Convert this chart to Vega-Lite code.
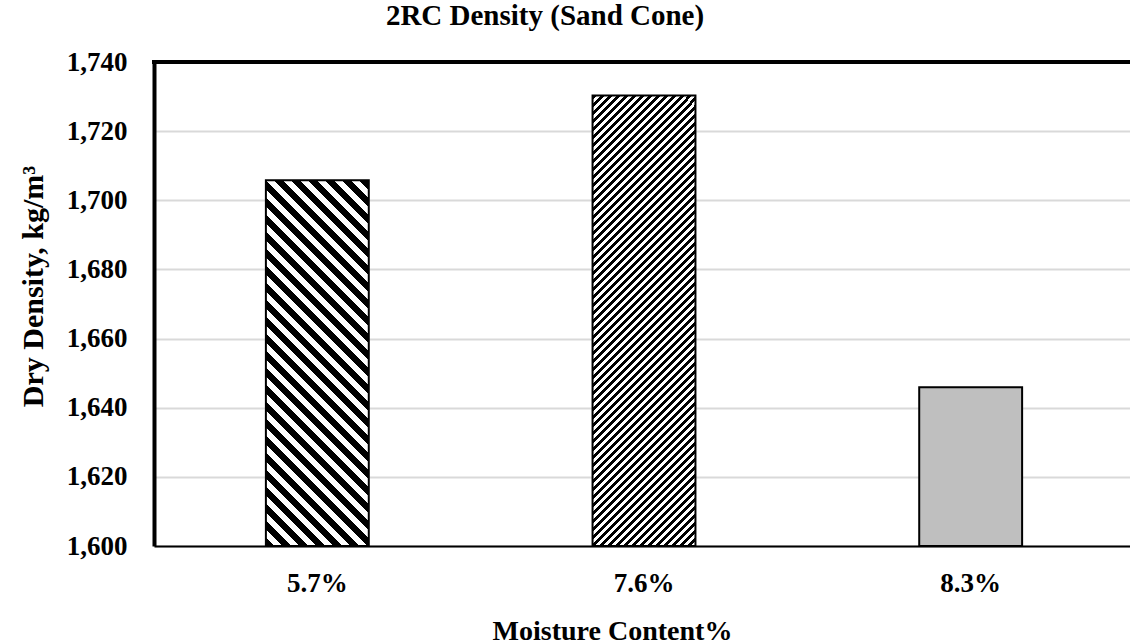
{
  "$schema": "https://vega.github.io/schema/vega-lite/v6.json",
  "width": 980,
  "height": 484,
  "autosize": {"type": "none"},
  "padding": {"left": 154, "top": 62, "right": 0, "bottom": 98},
  "background": "white",
  "title": {"text": "2RC Density (Sand Cone)", "font": "Liberation Serif", "fontSize": 29, "fontWeight": "bold", "color": "#000", "anchor": "middle", "dx": -99, "baseline": "alphabetic", "offset": -6},
  "data": {"values": [
    {"moisture": "5.7%", "density": 1705.8},
    {"moisture": "7.6%", "density": 1730.3},
    {"moisture": "8.3%", "density": 1645.9}
  ]},
  "layer": [
    {
      "encoding": {
        "x": {"field": "moisture", "type": "nominal", "sort": null,
          "scale": {"domain": ["5.7%", "7.6%", "8.3%"], "paddingInner": 0.685, "paddingOuter": 0.3425},
          "axis": {"title": "Moisture Content%", "labelAngle": 0, "labelFont": "Liberation Serif", "labelFontSize": 27, "labelFontWeight": "bold", "labelColor": "#000", "labelPadding": 45, "labelBaseline": "alphabetic", "ticks": false, "domainColor": "#000", "domainWidth": 2, "titleFont": "Liberation Serif", "titleFontSize": 28, "titleFontWeight": "bold", "titleColor": "#000", "titleX": 458, "titleY": 93, "titleBaseline": "alphabetic", "titleAnchor": "middle", "titleAlign": "center"}},
        "y": {"field": "density", "type": "quantitative",
          "scale": {"domain": [1600, 1740], "nice": false, "zero": false},
          "axis": {"title": "Dry Density, kg/m³", "values": [1600, 1620, 1640, 1660, 1680, 1700, 1720, 1740], "format": ",d", "labelFont": "Liberation Serif", "labelFontSize": 27, "labelFontWeight": "bold", "labelColor": "#000", "labelPadding": 27, "ticks": false, "domainColor": "#000", "domainWidth": 4, "gridColor": "#d9d9d9", "gridWidth": 2, "titleFont": "Liberation Serif", "titleFontSize": 30, "titleFontWeight": "bold", "titleColor": "#000", "titleX": -112, "titleY": 224, "titleBaseline": "alphabetic", "titleAngle": -90, "titleAlign": "center"}},
        "y2": {"datum": 1600}
      },
      "layer": [
        {
          "transform": [{"filter": "datum.moisture === '5.7%'"}],
          "mark": {"type": "bar", "stroke": "#000", "strokeWidth": 2, "fill": {"gradient": "linear", "x1": 0, "y1": 1, "x2": 0.3876, "y2": -0.3773, "stops": [
            {"offset":0,"color":"#000"},
            {"offset":0.015625,"color":"#000"},{"offset":0.015625,"color":"#fff"},
            {"offset":0.03125,"color":"#fff"},{"offset":0.03125,"color":"#000"},
            {"offset":0.046875,"color":"#000"},{"offset":0.046875,"color":"#fff"},
            {"offset":0.0625,"color":"#fff"},{"offset":0.0625,"color":"#000"},
            {"offset":0.078125,"color":"#000"},{"offset":0.078125,"color":"#fff"},
            {"offset":0.09375,"color":"#fff"},{"offset":0.09375,"color":"#000"},
            {"offset":0.109375,"color":"#000"},{"offset":0.109375,"color":"#fff"},
            {"offset":0.125,"color":"#fff"},{"offset":0.125,"color":"#000"},
            {"offset":0.140625,"color":"#000"},{"offset":0.140625,"color":"#fff"},
            {"offset":0.15625,"color":"#fff"},{"offset":0.15625,"color":"#000"},
            {"offset":0.171875,"color":"#000"},{"offset":0.171875,"color":"#fff"},
            {"offset":0.1875,"color":"#fff"},{"offset":0.1875,"color":"#000"},
            {"offset":0.203125,"color":"#000"},{"offset":0.203125,"color":"#fff"},
            {"offset":0.21875,"color":"#fff"},{"offset":0.21875,"color":"#000"},
            {"offset":0.234375,"color":"#000"},{"offset":0.234375,"color":"#fff"},
            {"offset":0.25,"color":"#fff"},{"offset":0.25,"color":"#000"},
            {"offset":0.265625,"color":"#000"},{"offset":0.265625,"color":"#fff"},
            {"offset":0.28125,"color":"#fff"},{"offset":0.28125,"color":"#000"},
            {"offset":0.296875,"color":"#000"},{"offset":0.296875,"color":"#fff"},
            {"offset":0.3125,"color":"#fff"},{"offset":0.3125,"color":"#000"},
            {"offset":0.328125,"color":"#000"},{"offset":0.328125,"color":"#fff"},
            {"offset":0.34375,"color":"#fff"},{"offset":0.34375,"color":"#000"},
            {"offset":0.359375,"color":"#000"},{"offset":0.359375,"color":"#fff"},
            {"offset":0.375,"color":"#fff"},{"offset":0.375,"color":"#000"},
            {"offset":0.390625,"color":"#000"},{"offset":0.390625,"color":"#fff"},
            {"offset":0.40625,"color":"#fff"},{"offset":0.40625,"color":"#000"},
            {"offset":0.421875,"color":"#000"},{"offset":0.421875,"color":"#fff"},
            {"offset":0.4375,"color":"#fff"},{"offset":0.4375,"color":"#000"},
            {"offset":0.453125,"color":"#000"},{"offset":0.453125,"color":"#fff"},
            {"offset":0.46875,"color":"#fff"},{"offset":0.46875,"color":"#000"},
            {"offset":0.484375,"color":"#000"},{"offset":0.484375,"color":"#fff"},
            {"offset":0.5,"color":"#fff"},{"offset":0.5,"color":"#000"},
            {"offset":0.515625,"color":"#000"},{"offset":0.515625,"color":"#fff"},
            {"offset":0.53125,"color":"#fff"},{"offset":0.53125,"color":"#000"},
            {"offset":0.546875,"color":"#000"},{"offset":0.546875,"color":"#fff"},
            {"offset":0.5625,"color":"#fff"},{"offset":0.5625,"color":"#000"},
            {"offset":0.578125,"color":"#000"},{"offset":0.578125,"color":"#fff"},
            {"offset":0.59375,"color":"#fff"},{"offset":0.59375,"color":"#000"},
            {"offset":0.609375,"color":"#000"},{"offset":0.609375,"color":"#fff"},
            {"offset":0.625,"color":"#fff"},{"offset":0.625,"color":"#000"},
            {"offset":0.640625,"color":"#000"},{"offset":0.640625,"color":"#fff"},
            {"offset":0.65625,"color":"#fff"},{"offset":0.65625,"color":"#000"},
            {"offset":0.671875,"color":"#000"},{"offset":0.671875,"color":"#fff"},
            {"offset":0.6875,"color":"#fff"},{"offset":0.6875,"color":"#000"},
            {"offset":0.703125,"color":"#000"},{"offset":0.703125,"color":"#fff"},
            {"offset":0.71875,"color":"#fff"},{"offset":0.71875,"color":"#000"},
            {"offset":0.734375,"color":"#000"},{"offset":0.734375,"color":"#fff"},
            {"offset":0.75,"color":"#fff"},{"offset":0.75,"color":"#000"},
            {"offset":0.765625,"color":"#000"},{"offset":0.765625,"color":"#fff"},
            {"offset":0.78125,"color":"#fff"},{"offset":0.78125,"color":"#000"},
            {"offset":0.796875,"color":"#000"},{"offset":0.796875,"color":"#fff"},
            {"offset":0.8125,"color":"#fff"},{"offset":0.8125,"color":"#000"},
            {"offset":0.828125,"color":"#000"},{"offset":0.828125,"color":"#fff"},
            {"offset":0.84375,"color":"#fff"},{"offset":0.84375,"color":"#000"},
            {"offset":0.859375,"color":"#000"},{"offset":0.859375,"color":"#fff"},
            {"offset":1,"color":"#fff"}
          ]}}
        },
        {
          "transform": [{"filter": "datum.moisture === '7.6%'"}],
          "mark": {"type": "bar", "stroke": "#000", "strokeWidth": 2, "fill": {"gradient": "linear", "x1": 0, "y1": 0, "x2": 0.3093, "y2": 1.3514, "stops": [
            {"offset":0,"color":"#000"},
            {"offset":0.00625,"color":"#000"},{"offset":0.00625,"color":"#fff"},
            {"offset":0.0125,"color":"#fff"},{"offset":0.0125,"color":"#000"},
            {"offset":0.01875,"color":"#000"},{"offset":0.01875,"color":"#fff"},
            {"offset":0.025,"color":"#fff"},{"offset":0.025,"color":"#000"},
            {"offset":0.03125,"color":"#000"},{"offset":0.03125,"color":"#fff"},
            {"offset":0.0375,"color":"#fff"},{"offset":0.0375,"color":"#000"},
            {"offset":0.04375,"color":"#000"},{"offset":0.04375,"color":"#fff"},
            {"offset":0.05,"color":"#fff"},{"offset":0.05,"color":"#000"},
            {"offset":0.05625,"color":"#000"},{"offset":0.05625,"color":"#fff"},
            {"offset":0.0625,"color":"#fff"},{"offset":0.0625,"color":"#000"},
            {"offset":0.06875,"color":"#000"},{"offset":0.06875,"color":"#fff"},
            {"offset":0.075,"color":"#fff"},{"offset":0.075,"color":"#000"},
            {"offset":0.08125,"color":"#000"},{"offset":0.08125,"color":"#fff"},
            {"offset":0.0875,"color":"#fff"},{"offset":0.0875,"color":"#000"},
            {"offset":0.09375,"color":"#000"},{"offset":0.09375,"color":"#fff"},
            {"offset":0.1,"color":"#fff"},{"offset":0.1,"color":"#000"},
            {"offset":0.10625,"color":"#000"},{"offset":0.10625,"color":"#fff"},
            {"offset":0.1125,"color":"#fff"},{"offset":0.1125,"color":"#000"},
            {"offset":0.11875,"color":"#000"},{"offset":0.11875,"color":"#fff"},
            {"offset":0.125,"color":"#fff"},{"offset":0.125,"color":"#000"},
            {"offset":0.13125,"color":"#000"},{"offset":0.13125,"color":"#fff"},
            {"offset":0.1375,"color":"#fff"},{"offset":0.1375,"color":"#000"},
            {"offset":0.14375,"color":"#000"},{"offset":0.14375,"color":"#fff"},
            {"offset":0.15,"color":"#fff"},{"offset":0.15,"color":"#000"},
            {"offset":0.15625,"color":"#000"},{"offset":0.15625,"color":"#fff"},
            {"offset":0.1625,"color":"#fff"},{"offset":0.1625,"color":"#000"},
            {"offset":0.16875,"color":"#000"},{"offset":0.16875,"color":"#fff"},
            {"offset":0.175,"color":"#fff"},{"offset":0.175,"color":"#000"},
            {"offset":0.18125,"color":"#000"},{"offset":0.18125,"color":"#fff"},
            {"offset":0.1875,"color":"#fff"},{"offset":0.1875,"color":"#000"},
            {"offset":0.19375,"color":"#000"},{"offset":0.19375,"color":"#fff"},
            {"offset":0.2,"color":"#fff"},{"offset":0.2,"color":"#000"},
            {"offset":0.20625,"color":"#000"},{"offset":0.20625,"color":"#fff"},
            {"offset":0.2125,"color":"#fff"},{"offset":0.2125,"color":"#000"},
            {"offset":0.21875,"color":"#000"},{"offset":0.21875,"color":"#fff"},
            {"offset":0.225,"color":"#fff"},{"offset":0.225,"color":"#000"},
            {"offset":0.23125,"color":"#000"},{"offset":0.23125,"color":"#fff"},
            {"offset":0.2375,"color":"#fff"},{"offset":0.2375,"color":"#000"},
            {"offset":0.24375,"color":"#000"},{"offset":0.24375,"color":"#fff"},
            {"offset":0.25,"color":"#fff"},{"offset":0.25,"color":"#000"},
            {"offset":0.25625,"color":"#000"},{"offset":0.25625,"color":"#fff"},
            {"offset":0.2625,"color":"#fff"},{"offset":0.2625,"color":"#000"},
            {"offset":0.26875,"color":"#000"},{"offset":0.26875,"color":"#fff"},
            {"offset":0.275,"color":"#fff"},{"offset":0.275,"color":"#000"},
            {"offset":0.28125,"color":"#000"},{"offset":0.28125,"color":"#fff"},
            {"offset":0.2875,"color":"#fff"},{"offset":0.2875,"color":"#000"},
            {"offset":0.29375,"color":"#000"},{"offset":0.29375,"color":"#fff"},
            {"offset":0.3,"color":"#fff"},{"offset":0.3,"color":"#000"},
            {"offset":0.30625,"color":"#000"},{"offset":0.30625,"color":"#fff"},
            {"offset":0.3125,"color":"#fff"},{"offset":0.3125,"color":"#000"},
            {"offset":0.31875,"color":"#000"},{"offset":0.31875,"color":"#fff"},
            {"offset":0.325,"color":"#fff"},{"offset":0.325,"color":"#000"},
            {"offset":0.33125,"color":"#000"},{"offset":0.33125,"color":"#fff"},
            {"offset":0.3375,"color":"#fff"},{"offset":0.3375,"color":"#000"},
            {"offset":0.34375,"color":"#000"},{"offset":0.34375,"color":"#fff"},
            {"offset":0.35,"color":"#fff"},{"offset":0.35,"color":"#000"},
            {"offset":0.35625,"color":"#000"},{"offset":0.35625,"color":"#fff"},
            {"offset":0.3625,"color":"#fff"},{"offset":0.3625,"color":"#000"},
            {"offset":0.36875,"color":"#000"},{"offset":0.36875,"color":"#fff"},
            {"offset":0.375,"color":"#fff"},{"offset":0.375,"color":"#000"},
            {"offset":0.38125,"color":"#000"},{"offset":0.38125,"color":"#fff"},
            {"offset":0.3875,"color":"#fff"},{"offset":0.3875,"color":"#000"},
            {"offset":0.39375,"color":"#000"},{"offset":0.39375,"color":"#fff"},
            {"offset":0.4,"color":"#fff"},{"offset":0.4,"color":"#000"},
            {"offset":0.40625,"color":"#000"},{"offset":0.40625,"color":"#fff"},
            {"offset":0.4125,"color":"#fff"},{"offset":0.4125,"color":"#000"},
            {"offset":0.41875,"color":"#000"},{"offset":0.41875,"color":"#fff"},
            {"offset":0.425,"color":"#fff"},{"offset":0.425,"color":"#000"},
            {"offset":0.43125,"color":"#000"},{"offset":0.43125,"color":"#fff"},
            {"offset":0.4375,"color":"#fff"},{"offset":0.4375,"color":"#000"},
            {"offset":0.44375,"color":"#000"},{"offset":0.44375,"color":"#fff"},
            {"offset":0.45,"color":"#fff"},{"offset":0.45,"color":"#000"},
            {"offset":0.45625,"color":"#000"},{"offset":0.45625,"color":"#fff"},
            {"offset":0.4625,"color":"#fff"},{"offset":0.4625,"color":"#000"},
            {"offset":0.46875,"color":"#000"},{"offset":0.46875,"color":"#fff"},
            {"offset":0.475,"color":"#fff"},{"offset":0.475,"color":"#000"},
            {"offset":0.48125,"color":"#000"},{"offset":0.48125,"color":"#fff"},
            {"offset":0.4875,"color":"#fff"},{"offset":0.4875,"color":"#000"},
            {"offset":0.49375,"color":"#000"},{"offset":0.49375,"color":"#fff"},
            {"offset":0.5,"color":"#fff"},{"offset":0.5,"color":"#000"},
            {"offset":0.50625,"color":"#000"},{"offset":0.50625,"color":"#fff"},
            {"offset":0.5125,"color":"#fff"},{"offset":0.5125,"color":"#000"},
            {"offset":0.51875,"color":"#000"},{"offset":0.51875,"color":"#fff"},
            {"offset":0.525,"color":"#fff"},{"offset":0.525,"color":"#000"},
            {"offset":0.53125,"color":"#000"},{"offset":0.53125,"color":"#fff"},
            {"offset":0.5375,"color":"#fff"},{"offset":0.5375,"color":"#000"},
            {"offset":0.54375,"color":"#000"},{"offset":0.54375,"color":"#fff"},
            {"offset":0.55,"color":"#fff"},{"offset":0.55,"color":"#000"},
            {"offset":0.55625,"color":"#000"},{"offset":0.55625,"color":"#fff"},
            {"offset":0.5625,"color":"#fff"},{"offset":0.5625,"color":"#000"},
            {"offset":0.56875,"color":"#000"},{"offset":0.56875,"color":"#fff"},
            {"offset":0.575,"color":"#fff"},{"offset":0.575,"color":"#000"},
            {"offset":0.58125,"color":"#000"},{"offset":0.58125,"color":"#fff"},
            {"offset":0.5875,"color":"#fff"},{"offset":0.5875,"color":"#000"},
            {"offset":0.59375,"color":"#000"},{"offset":0.59375,"color":"#fff"},
            {"offset":0.6,"color":"#fff"},{"offset":0.6,"color":"#000"},
            {"offset":0.60625,"color":"#000"},{"offset":0.60625,"color":"#fff"},
            {"offset":0.6125,"color":"#fff"},{"offset":0.6125,"color":"#000"},
            {"offset":0.61875,"color":"#000"},{"offset":0.61875,"color":"#fff"},
            {"offset":0.625,"color":"#fff"},{"offset":0.625,"color":"#000"},
            {"offset":0.63125,"color":"#000"},{"offset":0.63125,"color":"#fff"},
            {"offset":0.6375,"color":"#fff"},{"offset":0.6375,"color":"#000"},
            {"offset":0.64375,"color":"#000"},{"offset":0.64375,"color":"#fff"},
            {"offset":0.65,"color":"#fff"},{"offset":0.65,"color":"#000"},
            {"offset":0.65625,"color":"#000"},{"offset":0.65625,"color":"#fff"},
            {"offset":0.6625,"color":"#fff"},{"offset":0.6625,"color":"#000"},
            {"offset":0.66875,"color":"#000"},{"offset":0.66875,"color":"#fff"},
            {"offset":0.675,"color":"#fff"},{"offset":0.675,"color":"#000"},
            {"offset":0.68125,"color":"#000"},{"offset":0.68125,"color":"#fff"},
            {"offset":0.6875,"color":"#fff"},{"offset":0.6875,"color":"#000"},
            {"offset":0.69375,"color":"#000"},{"offset":0.69375,"color":"#fff"},
            {"offset":0.7,"color":"#fff"},{"offset":0.7,"color":"#000"},
            {"offset":0.70625,"color":"#000"},{"offset":0.70625,"color":"#fff"},
            {"offset":0.7125,"color":"#fff"},{"offset":0.7125,"color":"#000"},
            {"offset":0.71875,"color":"#000"},{"offset":0.71875,"color":"#fff"},
            {"offset":0.725,"color":"#fff"},{"offset":0.725,"color":"#000"},
            {"offset":0.73125,"color":"#000"},{"offset":0.73125,"color":"#fff"},
            {"offset":0.7375,"color":"#fff"},{"offset":0.7375,"color":"#000"},
            {"offset":0.74375,"color":"#000"},{"offset":0.74375,"color":"#fff"},
            {"offset":0.75,"color":"#fff"},{"offset":0.75,"color":"#000"},
            {"offset":0.75625,"color":"#000"},{"offset":0.75625,"color":"#fff"},
            {"offset":0.7625,"color":"#fff"},{"offset":0.7625,"color":"#000"},
            {"offset":0.76875,"color":"#000"},{"offset":0.76875,"color":"#fff"},
            {"offset":0.775,"color":"#fff"},{"offset":0.775,"color":"#000"},
            {"offset":0.78125,"color":"#000"},{"offset":0.78125,"color":"#fff"},
            {"offset":0.7875,"color":"#fff"},{"offset":0.7875,"color":"#000"},
            {"offset":0.79375,"color":"#000"},{"offset":0.79375,"color":"#fff"},
            {"offset":0.8,"color":"#fff"},{"offset":0.8,"color":"#000"},
            {"offset":0.80625,"color":"#000"},{"offset":0.80625,"color":"#fff"},
            {"offset":0.8125,"color":"#fff"},{"offset":0.8125,"color":"#000"},
            {"offset":0.81875,"color":"#000"},{"offset":0.81875,"color":"#fff"},
            {"offset":0.825,"color":"#fff"},{"offset":0.825,"color":"#000"},
            {"offset":0.83125,"color":"#000"},{"offset":0.83125,"color":"#fff"},
            {"offset":0.8375,"color":"#fff"},{"offset":0.8375,"color":"#000"},
            {"offset":0.84375,"color":"#000"},{"offset":0.84375,"color":"#fff"},
            {"offset":0.85,"color":"#fff"},{"offset":0.85,"color":"#000"},
            {"offset":0.85625,"color":"#000"},{"offset":0.85625,"color":"#fff"},
            {"offset":0.8625,"color":"#fff"},{"offset":0.8625,"color":"#000"},
            {"offset":0.86875,"color":"#000"},{"offset":0.86875,"color":"#fff"},
            {"offset":1,"color":"#fff"}
          ]}}
        },
        {
          "transform": [{"filter": "datum.moisture === '8.3%'"}],
          "mark": {"type": "bar", "stroke": "#000", "strokeWidth": 2, "fill": "#bfbfbf"}
        }
      ]
    },
    {
      "mark": {"type": "rule", "color": "#000", "strokeWidth": 4, "strokeCap": "square"},
      "encoding": {"y": {"datum": 1740, "title": "Dry Density, kg/m³"}}
    }
  ],
  "config": {"view": {"stroke": null}}
}
